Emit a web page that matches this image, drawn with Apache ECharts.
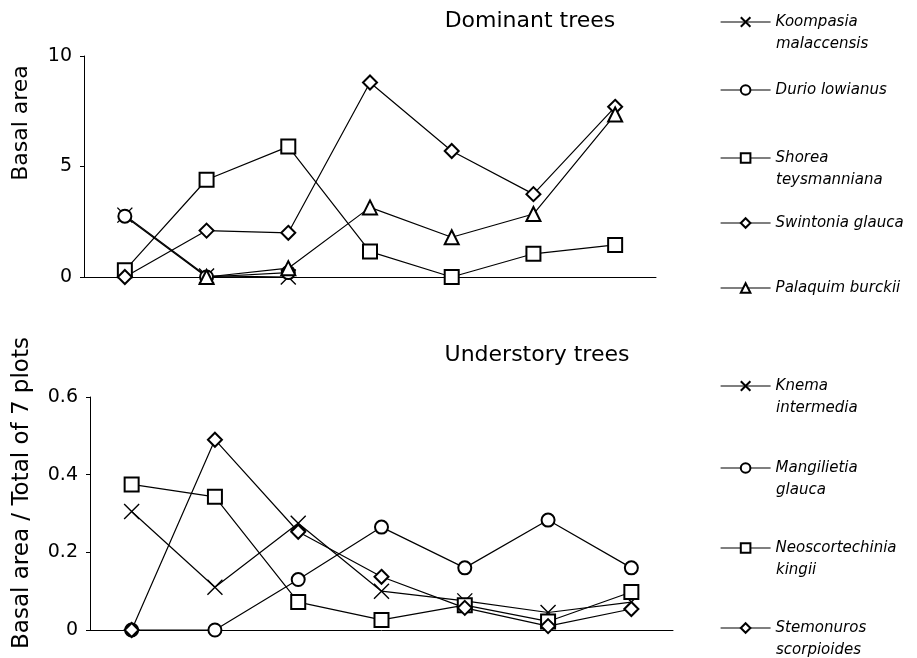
<!DOCTYPE html>
<html>
<head>
<meta charset="utf-8">
<script src="https://cdn.jsdelivr.net/npm/echarts@6/dist/echarts.min.js"></script>
<style>html,body{margin:0;padding:0;background:#fff}#c{width:917px;height:658px}</style>
</head>
<body>
<div id="c"></div>
<script>
const plots = ['1', '2', '3', '4', '5', '6', '7'];

// Dominant trees (basal area)
const koompasia = [2.8, 0.05, 0, null, null, null, null];
const durio = [2.75, 0, 0.2, null, null, null, null];
const shorea = [0.3, 4.4, 5.9, 1.15, 0, 1.05, 1.45];
const swintonia = [0, 2.1, 2.0, 8.8, 5.7, 3.75, 7.7];
const palaquim = [null, 0, 0.4, 3.15, 1.8, 2.85, 7.35];

// Understory trees (basal area / total of 7 plots)
const knema = [0.305, 0.11, 0.275, 0.10, 0.075, 0.045, 0.072];
const mangilietia = [0, 0, 0.13, 0.265, 0.16, 0.283, 0.16];
const neoscortechinia = [0.375, 0.343, 0.072, 0.026, 0.064, 0.022, 0.098];
const stemonuros = [0, 0.49, 0.253, 0.137, 0.057, 0.01, 0.054];

const topTicks = [0, 5, 10];
const bottomTicks = [0, 0.2, 0.4, 0.6];

const FONT = 'DejaVu Sans';
const CROSS = 'path://M0,0L10,10M10,0L0,10';

function mk(name, data, symbol, size, gi) {
  return {
    name: name, type: 'line', data: data,
    xAxisIndex: gi, yAxisIndex: gi,
    symbol: symbol, symbolSize: size,
    showAllSymbol: true,
    lineStyle: { color: '#000', width: 1.2 },
    itemStyle: { color: '#000', borderColor: '#000', borderWidth: 1.4 },
    emphasis: { disabled: true },
    animation: false
  };
}

const seriesDefs = [
  ['Koompasia malaccensis', koompasia, CROSS, 15, 0, 'Koompasia', 'malaccensis', 21],
  ['Durio lowianus', durio, 'emptyCircle', 13, 0, 'Durio lowianus', null, 89],
  ['Shorea teysmanniana', shorea, 'emptyRect', 14, 0, 'Shorea', 'teysmanniana', 157],
  ['Swintonia glauca', swintonia, 'emptyDiamond', 14, 0, 'Swintonia glauca', null, 222],
  ['Palaquim burckii', palaquim, 'emptyTriangle', 14, 0, 'Palaquim burckii', null, 287],
  ['Knema intermedia', knema, CROSS, 15, 1, 'Knema', 'intermedia', 385],
  ['Mangilietia glauca', mangilietia, 'emptyCircle', 13, 1, 'Mangilietia', 'glauca', 467],
  ['Neoscortechinia kingii', neoscortechinia, 'emptyRect', 14, 1, 'Neoscortechinia', 'kingii', 547],
  ['Stemonuros scorpioides', stemonuros, 'emptyDiamond', 14, 1, 'Stemonuros', 'scorpioides', 627]
];

const series = seriesDefs.map(d => mk(d[0], d[1], d[2], d[3], d[4]));

const legends = seriesDefs.map(d => ({
  data: [d[0]],
  left: 715,
  top: d[7] - 12,
  itemWidth: 50,
  itemHeight: 12,
  orient: 'vertical',
  selectedMode: false,
  formatter: () => d[5],
  textStyle: { fontFamily: FONT, fontStyle: 'italic', fontSize: 15, color: '#000', lineHeight: 16 },
  lineStyle: { color: '#000', width: 1.2 }
}));

const graphics = [];
seriesDefs.forEach(d => {
  if (d[6]) {
    graphics.push({ type: 'text', left: 776, top: d[7] + 22 - 6,
      style: { text: d[6], font: 'italic 15px "' + FONT + '"', fill: '#000' } });
  }
});
graphics.push({ type: 'text', x: 530, y: 21,
  style: { text: 'Dominant trees', font: '22px "' + FONT + '"', fill: '#000', align: 'center', verticalAlign: 'middle' } });
graphics.push({ type: 'text', x: 537, y: 355,
  style: { text: 'Understory trees', font: '22px "' + FONT + '"', fill: '#000', align: 'center', verticalAlign: 'middle' } });
graphics.push({ type: 'text', x: 21, y: 123, rotation: Math.PI / 2,
  style: { text: 'Basal area', font: '22px "' + FONT + '"', fill: '#000', align: 'center', verticalAlign: 'middle' } });
graphics.push({ type: 'text', x: 22, y: 493, rotation: Math.PI / 2,
  style: { text: 'Basal area / Total of 7 plots', font: '23px "' + FONT + '"', fill: '#000', align: 'center', verticalAlign: 'middle' } });

function yAx(gi, ticks) {
  return {
    type: 'value', gridIndex: gi,
    min: ticks[0], max: ticks[ticks.length - 1], interval: ticks[1] - ticks[0],
    axisLine: { show: true, lineStyle: { color: '#000', width: 1 } },
    axisTick: { show: true, length: 4, lineStyle: { color: '#000' } },
    splitLine: { show: false },
    axisLabel: { color: '#000', fontFamily: FONT, fontSize: 19, margin: 12 }
  };
}
function xAx(gi) {
  return {
    type: 'category', gridIndex: gi, data: plots, boundaryGap: true,
    axisLine: { show: true, onZero: false, lineStyle: { color: '#000', width: 1 } },
    axisTick: { show: false }, axisLabel: { show: false }, splitLine: { show: false }
  };
}

const chart = echarts.init(document.getElementById('c'), null, { renderer: 'canvas' });
chart.setOption({
  animation: false,
  backgroundColor: '#fff',
  grid: [
    { left: 84, right: 261, top: 56, bottom: 381 },
    { left: 90, right: 244, top: 397, bottom: 28 }
  ],
  xAxis: [xAx(0), xAx(1)],
  yAxis: [yAx(0, topTicks), yAx(1, bottomTicks)],
  legend: legends,
  graphic: graphics,
  series: series
});
</script>
</body>
</html>
